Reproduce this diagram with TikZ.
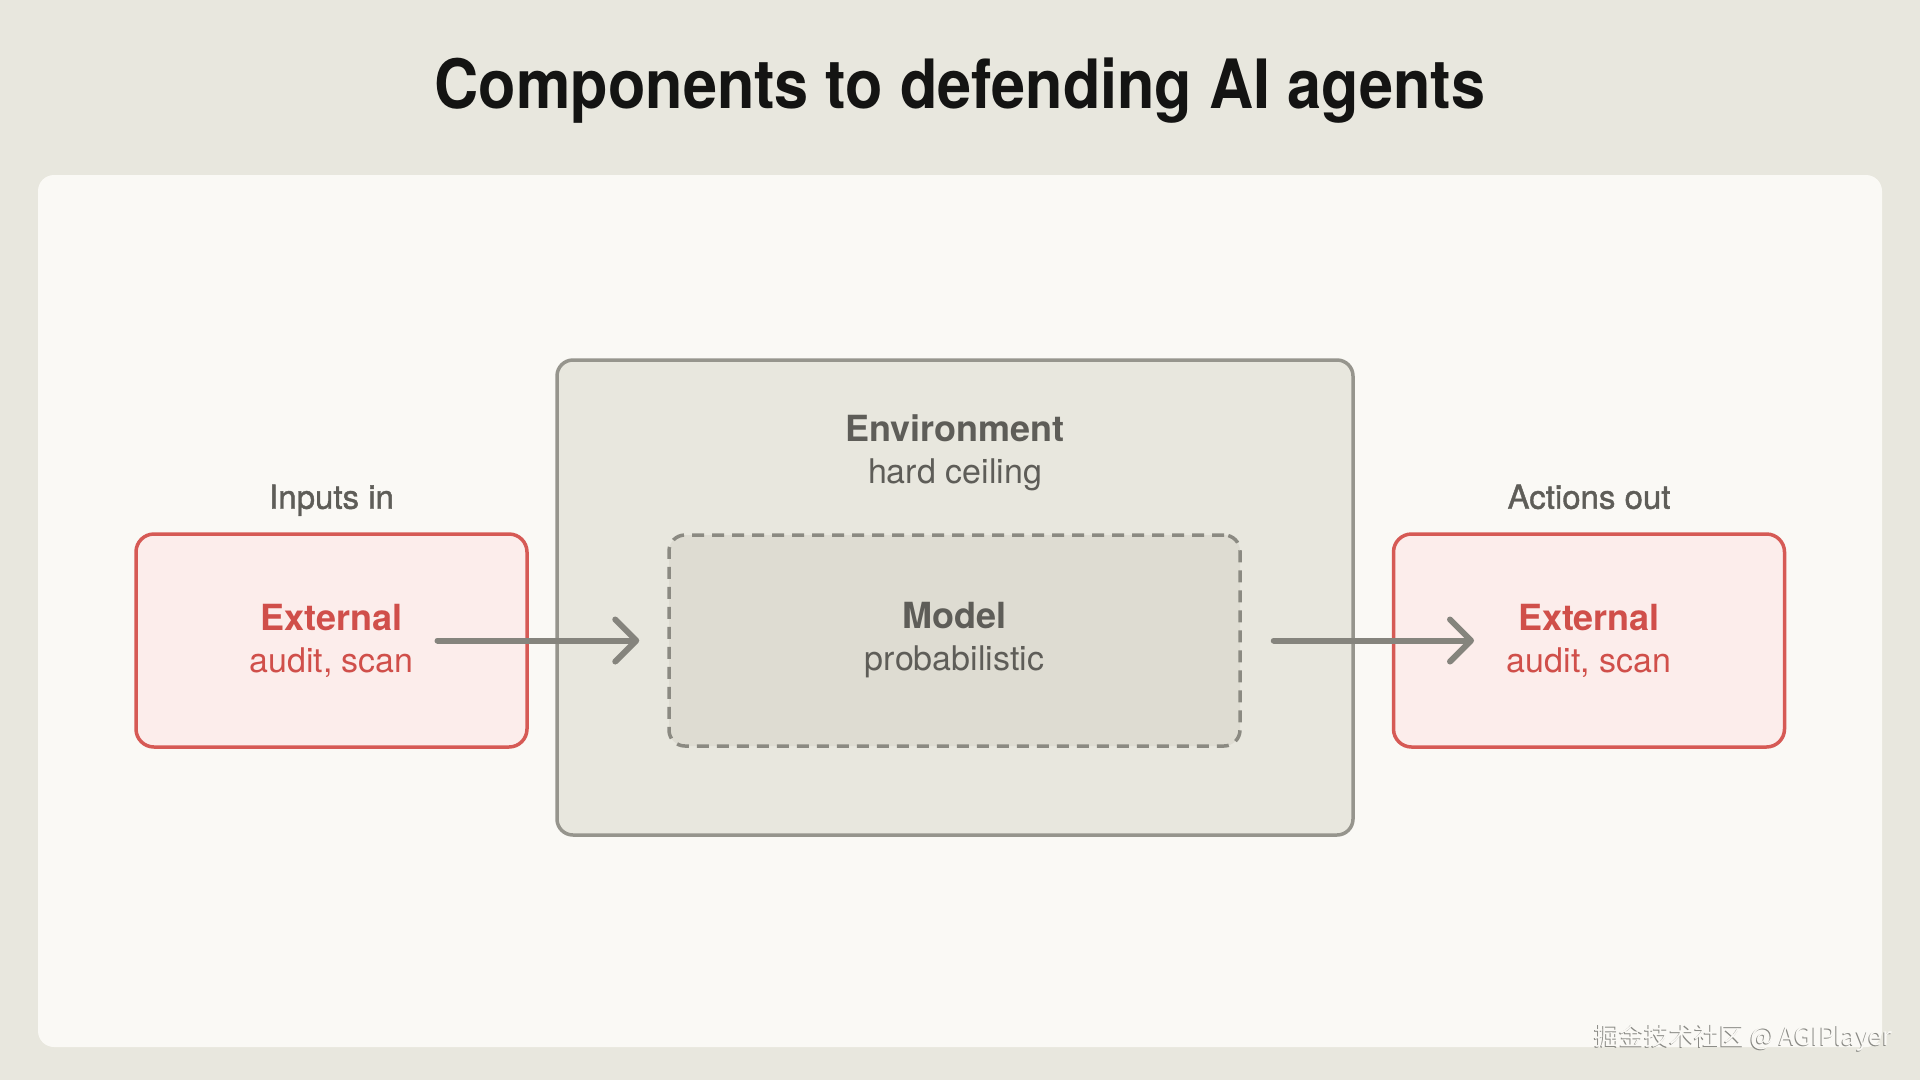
\documentclass[tikz,border=0pt]{standalone}
\usepackage{fontspec}
\setmainfont{TeX Gyre Heros}
\newfontfamily\titlefont[FakeStretch=0.9]{TeX Gyre Heros}
\newfontfamily\mediumfont[FakeBold=1.2]{TeX Gyre Heros}
\newfontfamily\cjkfont{Noto Sans CJK SC}
\usetikzlibrary{positioning,arrows.meta}
\definecolor{pagebg}{HTML}{E8E7DE}
\definecolor{panelbg}{HTML}{FAF9F5}
\definecolor{envfill}{HTML}{E8E7DE}
\definecolor{envline}{HTML}{96958D}
\definecolor{modelfill}{HTML}{DEDCD2}
\definecolor{modelline}{HTML}{8B8A82}
\definecolor{extfill}{HTML}{FCEDEB}
\definecolor{extline}{HTML}{D65A55}
\definecolor{exttext}{HTML}{D04F4A}
\definecolor{graytext}{HTML}{5E5D58}
\definecolor{arrowgray}{HTML}{85847D}
\definecolor{titletext}{HTML}{141413}
\definecolor{markshadow}{HTML}{8A8A85}

\begin{document}
\begin{tikzpicture}[x=1pt, y=-1pt,
    >={Straight Barb[length=21pt, width=42pt, round]},
    twoline/.style={align=center, font=\fontsize{34}{42}\selectfont},
    extbox/.style={twoline, draw=extline, fill=extfill, text=exttext, line width=3.5pt,
        rounded corners=18pt, minimum width=391pt, minimum height=213pt},
    flow/.style={->, draw=arrowgray, line width=6pt, line cap=round},
    heading/.style={text=graytext, text depth=0pt, font=\mediumfont\fontsize{33}{40}\selectfont}]
    \useasboundingbox (0,0) rectangle (1920,1080);
    \fill[pagebg] (0,0) rectangle (1920,1080);
    \fill[panelbg, rounded corners=16pt] (38,175) rectangle (1882,1047);

    \node[text=titletext, font=\titlefont\bfseries\fontsize{68}{80}\selectfont] (title) at (960,91) {Components to defending AI agents};

    \node[draw=envline, fill=envfill, line width=3.5pt, rounded corners=16pt,
        minimum width=796pt, minimum height=475pt] (env) at (955,597.5) {};
    \node[twoline, text=graytext, below=53pt of env.north] (envlbl) {\fontsize{36}{42}\selectfont\bfseries Environment\\hard ceiling};
    \node[twoline, text=graytext, draw=modelline, fill=modelfill, line width=3.5pt, dashed,
        dash pattern=on 12pt off 8pt, rounded corners=16pt,
        minimum width=571pt, minimum height=211pt] (model) at (954.5,640.5) {\fontsize{36}{42}\selectfont\bfseries Model\\probabilistic};

    \node[extbox] (extIn) at (331.5,640.5) {\fontsize{36}{42}\selectfont\bfseries External\\audit, scan};
    \node[extbox] (extOut) at (1589,640.5) {\fontsize{36}{42}\selectfont\bfseries External\\audit, scan};
    \node[heading, above=20pt of extIn] (inLbl) {Inputs in};
    \node[heading, above=20pt of extOut] (outLbl) {Actions out};

    \coordinate (inStart) at ([xshift=106pt]extIn.center);
    \coordinate (inEnd) at ([xshift=-28pt]model.west);
    \coordinate (outStart) at ([xshift=32pt]model.east);
    \coordinate (outEnd) at ([xshift=-115pt]extOut.center);
    \draw[flow] (inStart) -- (inEnd);
    \draw[flow] (outStart) -- (outEnd);

    \node[anchor=base east, text=markshadow, font=\cjkfont\fontsize{25}{30}\selectfont] (markShade) at (1895,1046.5) {掘金技术社区 @ AGIPlayer};
    \node[anchor=base east, text=panelbg, font=\cjkfont\fontsize{25}{30}\selectfont] (mark) at (1896,1045) {掘金技术社区 @ AGIPlayer};
\end{tikzpicture}
\end{document}
